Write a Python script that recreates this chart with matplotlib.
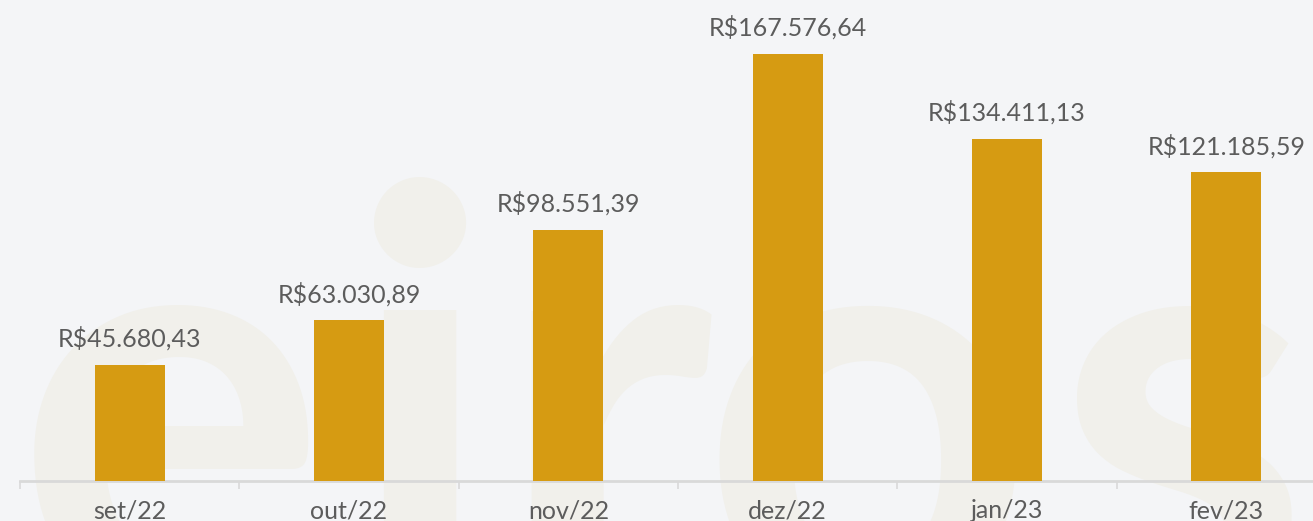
import matplotlib.pyplot as plt
import numpy as np

months = ['set/22', 'out/22', 'nov/22', 'dez/22', 'jan/23', 'fev/23']
values = [45680.43, 63030.89, 98551.39, 167576.64, 134411.13, 121185.59]
labels = ['R$45.680,43', 'R$63.030,89', 'R$98.551,39',
          'R$167.576,64', 'R$134.411,13', 'R$121.185,59']

bg = '#f4f5f7'
gold = '#d69b12'
txt = '#5c5c5c'

fig = plt.figure(figsize=(13.13, 5.21), dpi=100, facecolor=bg)

# faint logo watermark behind the chart
wm = '#f1f0eb'
for ch, xc in zip('eiros', [0.13, 0.32, 0.46, 0.66, 0.9]):
    fig.text(xc, -0.17, ch, fontsize=420, color=wm, ha='center', va='baseline',
             family='Lato', weight='bold', zorder=0)

ax = fig.add_axes([20/1313, 40/521, 1316/1313, 481/521])
ax.set_zorder(2)
ax.set_facecolor('none')
x = np.arange(len(months))
ax.bar(x, values, width=0.32, color=gold, zorder=3)

for xi, v, lab in zip(x, values, labels):
    ax.annotate(lab, (xi, v), xytext=(0, 13), textcoords='offset points',
                ha='center', va='baseline', fontsize=18, color=txt,
                family='Lato')

ax.set_xlim(-0.5, 5.5)
ax.set_ylim(0, 188800)
ax.set_yticks([])
for s in ['top', 'right', 'left']:
    ax.spines[s].set_visible(False)
ax.spines['bottom'].set_color('#d9d9d9')
ax.spines['bottom'].set_linewidth(2)

ax.set_xticks(x)
ax.set_xticklabels(months, fontsize=18, color=txt, family='Lato')
ax.tick_params(axis='x', which='major', length=0, pad=13)
ax.set_xticks(np.arange(-0.5, 6, 1), minor=True)
ax.tick_params(axis='x', which='minor', length=6, width=1.2, color='#d9d9d9')

fig.savefig('out.png', dpi=100, facecolor=bg)
